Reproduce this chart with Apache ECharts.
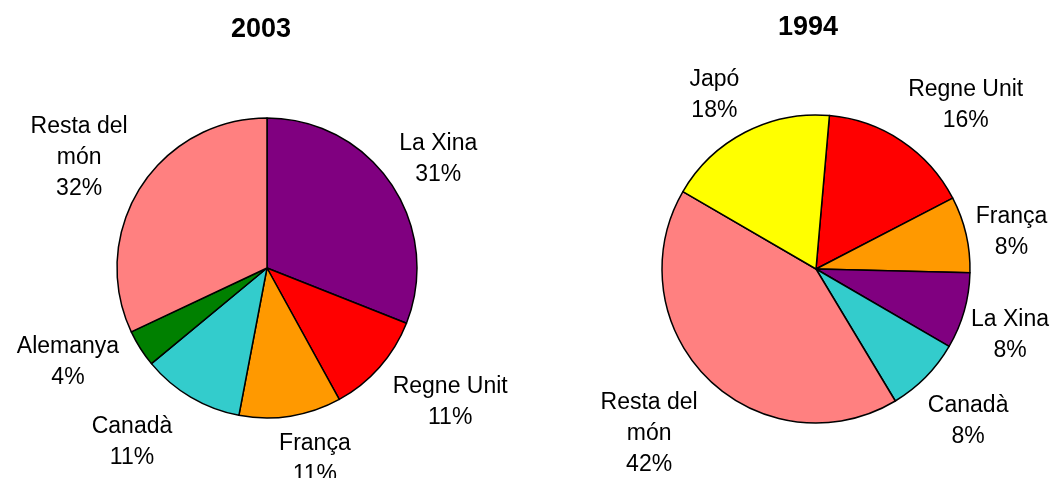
<!DOCTYPE html>
<html>
<head>
<meta charset="utf-8">
<script src="https://cdn.jsdelivr.net/npm/echarts@6/dist/echarts.min.js"></script>
<style>
  html, body { margin: 0; padding: 0; background: #fff; }
  #chart { width: 1056px; height: 478px; }
</style>
</head>
<body>
<div id="chart"></div>
<script>
// Export shares by destination, percent
const names2003 = ['La Xina', 'Regne Unit', 'França', 'Canadà', 'Alemanya', 'Resta del món'];
const values2003 = [31, 11, 11, 11, 4, 32];
const colors2003 = ['#800080', '#FF0000', '#FF9900', '#33CCCC', '#008000', '#FF8080'];

const names1994 = ['Regne Unit', 'França', 'La Xina', 'Canadà', 'Resta del món', 'Japó'];
const values1994 = [16, 8, 8, 8, 42, 18];
const colors1994 = ['#FF0000', '#FF9900', '#800080', '#33CCCC', '#FF8080', '#FFFF00'];

const years = ['2003', '1994'];

// Pie geometry and label placement settings
const pies = [
  { names: names2003, values: values2003, colors: colors2003,
    center: [267, 268], radius: 150, startAngle: 90,
    nudge: [[0, 0], [14, 0], [16, -8], [-29, 0], [-14, -15], [-5, 2]] },
  { names: names1994, values: values1994, colors: colors1994,
    center: [816, 269], radius: 154, startAngle: 85,
    nudge: [[22, 2], [-7, 6], [-9, 8], [1, 7], [-12, 6], [-11, 3]] }
];
const LABEL_GAP = 18;
const LABEL_BASELINE_SHIFT = 3;

function midAngle(cfg, idx) {
  const total = cfg.values.reduce((a, b) => a + b, 0);
  let before = 0;
  for (let i = 0; i < idx; i++) before += cfg.values[i];
  const start = (90 - cfg.startAngle) * Math.PI / 180;
  return start + (before + cfg.values[idx] / 2) / total * Math.PI * 2;
}

function labelText(name, value) {
  let n = name;
  if (n.length > 11) {
    const k = n.lastIndexOf(' ');
    n = n.slice(0, k) + '\n' + n.slice(k + 1);
  }
  return n + '\n' + value + '%';
}

const chart = echarts.init(document.getElementById('chart'), null, { renderer: 'canvas' });

const series = pies.map((cfg, si) => ({
  type: 'pie',
  center: cfg.center,
  radius: cfg.radius,
  startAngle: cfg.startAngle,
  clockwise: true,
  avoidLabelOverlap: false,
  silent: true,
  animation: false,
  itemStyle: { borderColor: '#000', borderWidth: 1.5 },
  label: {
    show: true,
    position: 'inside',
    color: '#000',
    fontFamily: 'Liberation Sans',
    fontSize: 23,
    lineHeight: 31,
    align: 'center',
    overflow: 'none',
    formatter: p => labelText(p.name, p.value)
  },
  labelLine: { show: false },
  emphasis: { disabled: true },
  labelLayout: function (p) {
    const c = pies[p.seriesIndex];
    const a = midAngle(c, p.dataIndex);
    const ux = Math.sin(a), uy = -Math.cos(a);
    const w = p.labelRect.width, h = p.labelRect.height;
    const d = c.radius + LABEL_GAP;
    const n = c.nudge[p.dataIndex];
    return {
      x: c.center[0] + d * ux + ux * w / 2 + n[0],
      y: c.center[1] + d * uy + uy * h / 2 + n[1] + LABEL_BASELINE_SHIFT,
      align: 'center',
      verticalAlign: 'middle'
    };
  },
  data: cfg.names.map((name, i) => ({
    name: name,
    value: cfg.values[i],
    itemStyle: { color: cfg.colors[i] }
  }))
}));

chart.setOption({
  backgroundColor: '#fff',
  animation: false,
  graphic: [
    { type: 'text', x: 261, y: 30,
      style: { text: years[0], font: 'bold 27px "Liberation Sans"', fill: '#000',
               textAlign: 'center', textVerticalAlign: 'middle' } },
    { type: 'text', x: 808, y: 27.5,
      style: { text: years[1], font: 'bold 27px "Liberation Sans"', fill: '#000',
               textAlign: 'center', textVerticalAlign: 'middle' } }
  ],
  series: series
});
</script>
</body>
</html>
